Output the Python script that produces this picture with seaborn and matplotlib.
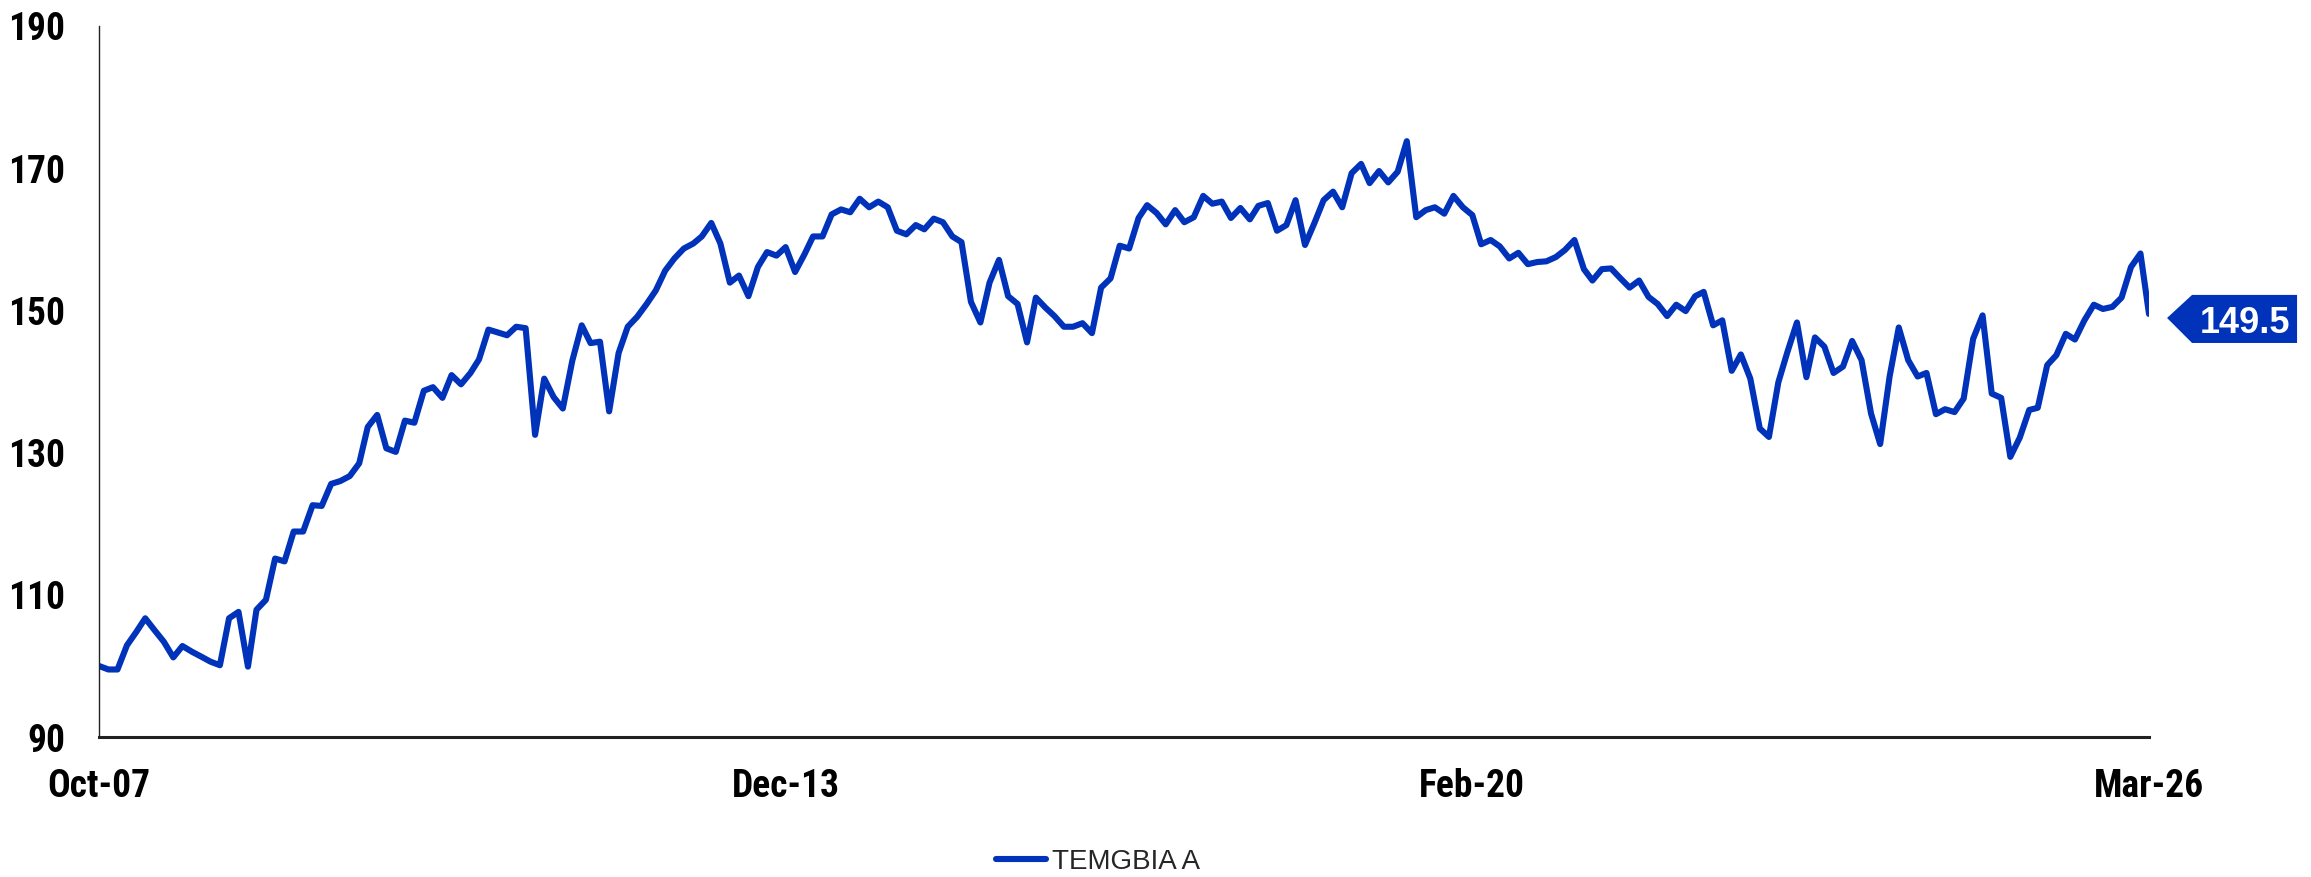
import numpy as np
import pandas as pd
import seaborn as sns
import matplotlib.pyplot as plt
import matplotlib.dates as mdates
import matplotlib.transforms as mtransforms
from matplotlib.patches import Polygon
from matplotlib import font_manager
from matplotlib.font_manager import FontProperties

# monthly index values, Oct-07 .. Mar-26
vals_2007_2010 = [100.0, 99.5, 99.5, 102.9, 104.8, 106.7, 105.0, 103.4, 101.2, 102.8,
                  102.0, 101.3, 100.6, 100.1, 106.7, 107.6, 99.9, 107.9, 109.3, 115.1,
                  114.7, 118.9, 118.9, 122.6, 122.5, 125.6, 126.0, 126.7, 128.5, 133.6,
                  135.3, 130.6]
vals_2010_2012 = [130.1, 134.5, 134.2, 138.7, 139.2, 137.7, 140.9, 139.6, 141.2, 143.1,
                  147.3, 146.9, 146.5, 147.7, 147.5, 132.5, 140.4, 137.8, 136.2, 142.9,
                  147.9, 145.4, 145.6, 135.8, 144.0, 147.7, 149.1, 150.9, 152.8, 155.6,
                  157.3]
vals_2013_2015 = [158.7, 159.4, 160.4, 162.3, 159.4, 153.9, 154.9, 152.0, 156.1, 158.2,
                  157.7, 158.9, 155.4, 157.9, 160.4, 160.4, 163.5, 164.2, 163.8, 165.7,
                  164.5, 165.3, 164.5, 161.2, 160.7, 162.0, 161.4, 162.9, 162.4, 160.4,
                  159.6]
vals_2015_2018 = [151.2, 148.3, 153.9, 157.1, 152.0, 150.9, 145.5, 151.8, 150.4, 149.2,
                  147.7, 147.7, 148.2, 146.8, 153.2, 154.5, 159.1, 158.7, 163.0, 164.8,
                  163.7, 162.1, 164.1, 162.4, 163.1, 166.1, 165.0, 165.3, 163.0, 164.4,
                  162.8, 164.7]
vals_2018_2020 = [165.1, 161.2, 162.0, 165.5, 159.2, 162.3, 165.5, 166.7, 164.5, 169.3,
                  170.6, 167.9, 169.6, 168.0, 169.5, 173.8, 163.1, 164.1, 164.5, 163.6,
                  166.1, 164.5, 163.4, 159.3, 159.9, 159.0, 157.3, 158.1, 156.5, 156.8,
                  156.9]
vals_2020_2023 = [157.5, 158.5, 159.9, 155.8, 154.2, 155.8, 155.9, 154.5, 153.2, 154.2,
                  151.9, 150.9, 149.2, 150.8, 149.9, 152.0, 152.6, 147.9, 148.6, 141.5,
                  143.8, 140.4, 133.4, 132.2, 139.9, 144.2, 148.3, 140.6, 146.2, 144.9,
                  141.2]
vals_2023_2026 = [142.1, 145.7, 143.0, 135.5, 131.2, 140.7, 147.6, 143.0, 140.7, 141.2,
                  135.4, 136.1, 135.7, 137.6, 146.0, 149.3, 138.3, 137.7, 129.4, 132.1,
                  136.0, 136.3, 142.3, 143.7, 146.7, 145.9, 148.6, 150.8, 150.2, 150.5,
                  151.8, 156.1, 158.0, 149.5]

series_name = 'TEMGBIA A'
tick_labels = ['Oct-07', 'Dec-13', 'Feb-20', 'Mar-26']
y_ticks = [90, 110, 130, 150, 170, 190]

LINE_COLOR = '#0033b9'
AXIS_COLOR = '#222222'

values = (vals_2007_2010 + vals_2010_2012 + vals_2013_2015 + vals_2015_2018
          + vals_2018_2020 + vals_2020_2023 + vals_2023_2026)
dates = pd.date_range('2007-10-01', periods=len(values), freq='MS')
df = pd.DataFrame({'date': dates, 'value': values})

sns.set_theme(style='white')
plt.rcParams['font.family'] = ['Liberation Sans', 'DejaVu Sans']

# axis labels in the original are a narrow bold face; use one if installed
installed = {f.name for f in font_manager.fontManager.ttflist}
tick_family, tick_size = 'Liberation Sans', 25
for fam in ['Liberation Sans Narrow', 'Roboto Condensed', 'Open Sans Condensed',
            'DejaVu Sans Condensed']:
    if fam in installed:
        tick_family, tick_size = fam, 27
        break
tick_fp = FontProperties(family=[tick_family, 'DejaVu Sans'], weight='bold', size=tick_size)

fig, ax = plt.subplots(figsize=(23.11, 8.77), dpi=100)
fig.subplots_adjust(left=0.0428, right=0.9299, top=0.9704, bottom=0.1596)

sns.lineplot(data=df, x='date', y='value', ax=ax, color=LINE_COLOR, linewidth=4.4,
             label=series_name, legend=False, solid_joinstyle='round', solid_capstyle='round')

ax.set_xlim(dates[0], dates[-1])
ax.set_ylim(y_ticks[0], y_ticks[-1])
ax.set_xlabel('')
ax.set_ylabel('')

tick_dates = pd.to_datetime(tick_labels, format='%b-%y')
ax.set_xticks(tick_dates)
ax.set_xticklabels(tick_labels, fontproperties=tick_fp)
ax.set_yticks(y_ticks)
ax.set_yticklabels([str(t) for t in y_ticks], fontproperties=tick_fp)

ax.spines[['top', 'right']].set_visible(False)
ax.spines['left'].set_linewidth(1.0)
ax.spines['left'].set_color(AXIS_COLOR)
ax.spines['bottom'].set_linewidth(2.2)
ax.spines['bottom'].set_color(AXIS_COLOR)
ax.tick_params(axis='both', direction='out', length=8, width=0.9, color=AXIS_COLOR,
               labelcolor='black')
ax.tick_params(axis='y', pad=16.5)
ax.tick_params(axis='x', pad=14)
ax.grid(False)

# value flag pinned to the last point (offsets in points)
last_x, last_y = mdates.date2num(dates[-1]), values[-1]
flag_trans = (mtransforms.Affine2D().scale(fig.dpi / 72.0)
              + mtransforms.ScaledTranslation(last_x, last_y, ax.transData))
flag = Polygon([(13.0, -2.9), (31.0, 13.7), (106.6, 13.7), (106.6, -20.9), (31.0, -20.9)],
               closed=True, transform=flag_trans, facecolor=LINE_COLOR, edgecolor='none',
               clip_on=False)
ax.add_patch(flag)
ax.annotate(f'{values[-1]:.1f}', xy=(dates[-1], last_y), xytext=(68.8, -13.9),
            textcoords='offset points', ha='center', va='baseline', color='white',
            fontsize=26, fontweight='bold', annotation_clip=False)

handles, labels = ax.get_legend_handles_labels()
fig.legend(handles, labels, loc='center', bbox_to_anchor=(0.475, 0.017), frameon=False,
           fontsize=20, handlelength=1.8, handletextpad=0.2)

fig.savefig('out.png', dpi=100)
